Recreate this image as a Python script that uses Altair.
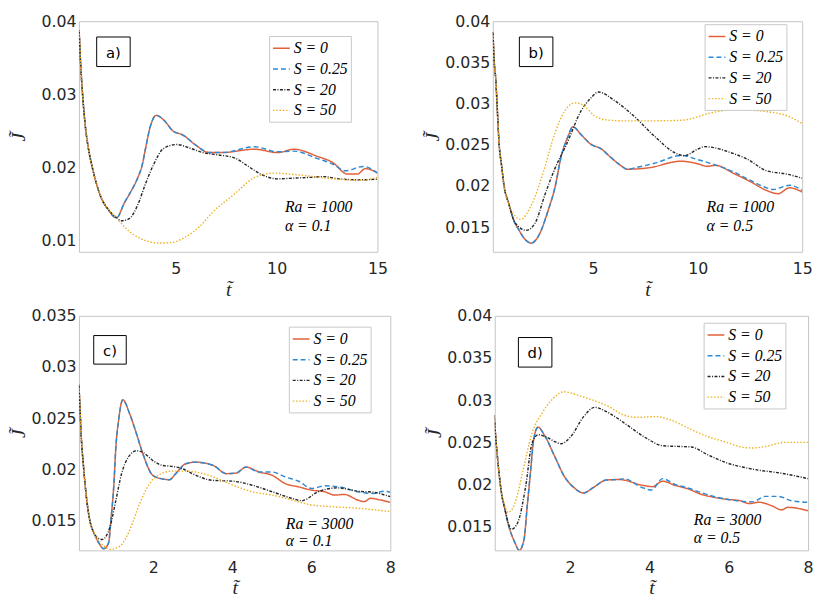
import altair as alt
import pandas as pd

LABELS = ["S = 0", "S = 0.25", "S = 20", "S = 50"]
COLORS = ["#E2613A", "#2B8AD3", "#262626", "#EDB120"]
DASHES = [[1, 0], [5, 3], [3, 1.5, 1, 1.5], [1.5, 1.8]]
WIDTHS = [1.5, 1.4, 1.15, 2.0]
SERIF = "Liberation Serif, DejaVu Serif, Times New Roman, serif"

# ---------------- panel a (Ra = 1000, alpha = 0.1) ----------------
a_common_t = [0.21, 0.28, 0.38, 0.5, 0.67, 0.86, 1.07, 1.31, 1.64]
a_common_J = [0.03873, 0.03436, 0.02998, 0.02605, 0.02255, 0.0200, 0.01773, 0.01576, 0.01424]
a_s0_t = a_common_t + [2.06, 2.45, 2.77, 3.09, 3.34, 3.5, 3.74, 4.03, 4.39, 4.87, 5.36, 6.0, 6.65, 7.3,
                       8.9, 10.05, 10.86, 12.0, 12.8, 13.5, 14.0, 14.4, 15.0]
a_s0_J = a_common_J + [0.01305, 0.0151, 0.01664, 0.01839, 0.02035, 0.02255, 0.0256, 0.0271, 0.0265,
                       0.02495, 0.0244, 0.0230, 0.0220, 0.0220, 0.02246, 0.0220, 0.02246, 0.0215,
                       0.0206, 0.01905, 0.01905, 0.0198, 0.0192]
a_s025_t = a_common_t + [2.06, 2.45, 2.77, 3.09, 3.34, 3.5, 3.74, 4.03, 4.39, 4.87, 5.36, 6.0, 6.65, 7.3,
                         8.9, 10.05, 10.86, 12.0, 12.8, 13.4, 14.3, 15.0]
a_s025_J = a_common_J + [0.01305, 0.0151, 0.01664, 0.01839, 0.02035, 0.02255, 0.0256, 0.0271, 0.0265,
                         0.02495, 0.0244, 0.0230, 0.0220, 0.0220, 0.0228, 0.0221, 0.0222, 0.0212,
                         0.0204, 0.0195, 0.0201, 0.0192]
a_s20_t = a_common_t + [2.04, 2.3, 2.69, 3.09, 3.5, 3.9, 4.39, 5.04, 5.69, 6.33, 7.14, 7.95, 8.6, 9.24,
                        10.05, 10.86, 11.67, 12.3, 13.1, 14.1, 15.0]
a_s20_J = a_common_J + [0.01314, 0.01265, 0.01293, 0.01467, 0.01773, 0.02035, 0.02255, 0.0231, 0.02263,
                        0.0220, 0.02167, 0.02123, 0.0201, 0.0190, 0.0184, 0.0185, 0.0186, 0.0187,
                        0.0184, 0.01826, 0.01835]
a_s50_t = a_common_t + [2.04, 2.45, 2.93, 3.58, 4.23, 4.87, 5.52, 6.17, 6.82, 7.95, 8.92, 9.89, 11.2,
                        12.8, 14.1, 15.0]
a_s50_J = a_common_J + [0.01314, 0.01183, 0.01073, 0.00986, 0.0096, 0.0097, 0.0105, 0.01183, 0.0138,
                        0.01642, 0.0186, 0.01918, 0.0189, 0.0184, 0.0182, 0.0186]

# ---------------- panel b (Ra = 1000, alpha = 0.5) ----------------
b_common_t = [0.21, 0.27, 0.34, 0.42, 0.5, 0.62, 0.73, 0.97]
b_common_J = [0.0387, 0.0350, 0.03305, 0.0291, 0.0252, 0.0225, 0.02016, 0.0178]
b_s0_t = b_common_t + [1.2, 1.44, 1.75, 2.04, 2.38, 2.85, 3.17, 3.48, 3.8, 4.03, 4.43, 4.9, 5.37, 5.84,
                       6.31, 6.63, 7.63, 9.2, 9.99, 10.46, 10.86, 11.72, 12.5, 13.3, 13.84, 14.4, 15.0]
b_s0_J = b_common_J + [0.01586, 0.01469, 0.0135, 0.01305, 0.0139, 0.01703, 0.01977, 0.02367, 0.0260,
                       0.02719, 0.02621, 0.02504, 0.02453, 0.02348, 0.0225, 0.02203, 0.02219, 0.0230,
                       0.0227, 0.02238, 0.0225, 0.02152, 0.02055, 0.01945, 0.01906, 0.01977, 0.01926]
b_s025_t = b_common_t + [1.2, 1.44, 1.75, 2.04, 2.38, 2.85, 3.17, 3.48, 3.8, 4.03, 4.43, 4.9, 5.37, 5.84,
                         6.31, 6.63, 7.0, 8.0, 9.2, 10.0, 10.78, 11.72, 12.5, 13.3, 13.6, 14.4, 15.0]
b_s025_J = b_common_J + [0.01586, 0.01469, 0.0135, 0.01305, 0.0139, 0.01703, 0.01977, 0.02367, 0.0260,
                         0.02719, 0.02621, 0.02504, 0.02453, 0.02348, 0.0225, 0.02203, 0.0222, 0.0228,
                         0.0237, 0.0232, 0.0226, 0.0217, 0.0207, 0.01977, 0.01957, 0.02008, 0.01945]
b_s20_t = b_common_t + [1.28, 1.8, 2.22, 2.7, 3.17, 3.72, 4.43, 4.9, 5.25, 6.06, 7.0, 7.95, 8.89, 9.36,
                        9.99, 10.31, 10.78, 11.56, 12.35, 13.3, 14.24, 15.0]
b_s20_J = b_common_J + [0.01547, 0.01461, 0.01547, 0.01898, 0.0221, 0.0250, 0.02914, 0.0307, 0.0314,
                        0.0303, 0.02836, 0.0260, 0.02406, 0.02367, 0.02445, 0.02477, 0.02465, 0.02406,
                        0.02328, 0.02184, 0.02145, 0.02094]
b_s50_t = b_common_t + [1.2, 1.52, 2.07, 2.62, 3.17, 3.64, 4.14, 4.58, 5.05, 5.53, 6.47, 7.5, 9.2,
                        10.78, 11.72, 13.3, 14.24, 15.0]
b_s50_J = b_common_J + [0.0166, 0.01594, 0.0178, 0.0217, 0.0264, 0.0291, 0.0301, 0.0297, 0.02855,
                        0.02805, 0.0279, 0.0279, 0.02797, 0.02895, 0.02926, 0.02902, 0.02855, 0.02758]

# ---------------- panel c (Ra = 3000, alpha = 0.1) ----------------
c_common_t = [0.12, 0.15, 0.18, 0.23, 0.29, 0.35, 0.41, 0.5]
c_common_J = [0.02826, 0.0257, 0.0231, 0.02055, 0.01798, 0.01605, 0.01477, 0.0138]
c_s0_t = c_common_t + [0.62, 0.75, 0.87, 0.93, 1.0, 1.06, 1.12, 1.23, 1.41, 1.58, 1.74, 1.99, 2.2, 2.41,
                       2.57, 2.82, 3.07, 3.52, 3.85, 4.1, 4.35, 4.68, 5.01, 5.34, 5.68, 6.01, 6.34,
                       6.59, 6.84, 7.17, 7.34, 7.5, 7.75, 8.0]
c_s0_J = c_common_J + [0.01284, 0.01226, 0.01284, 0.0151, 0.0183, 0.0225, 0.0247, 0.0268, 0.02537,
                       0.02344, 0.02151, 0.01942, 0.0191, 0.0190, 0.01959, 0.02055, 0.02071, 0.02039,
                       0.01959, 0.01965, 0.02023, 0.01975, 0.01943, 0.01862, 0.0183, 0.01798, 0.01782,
                       0.0175, 0.01756, 0.01702, 0.01686, 0.01718, 0.01702, 0.01679]
c_s025_t = c_common_t + [0.62, 0.75, 0.87, 0.93, 1.0, 1.06, 1.12, 1.23, 1.41, 1.58, 1.74, 1.99, 2.2, 2.41,
                         2.57, 2.82, 3.07, 3.52, 3.85, 4.1, 4.35, 4.68, 5.01, 5.34, 5.68, 6.01, 6.34,
                         6.84, 7.17, 7.59, 7.83, 8.0]
c_s025_J = c_common_J + [0.01284, 0.01226, 0.01284, 0.0151, 0.0183, 0.0225, 0.0247, 0.0268, 0.02537,
                         0.02344, 0.02151, 0.01942, 0.0191, 0.0190, 0.01959, 0.02055, 0.02071, 0.02039,
                         0.01959, 0.01965, 0.02023, 0.01975, 0.01975, 0.01927, 0.01885, 0.01814,
                         0.0184, 0.0182, 0.01782, 0.01766, 0.01788, 0.01776]
c_s20_t = c_common_t + [0.6, 0.71, 0.81, 0.91, 1.04, 1.2, 1.37, 1.58, 1.74, 1.99, 2.24, 2.49, 2.74, 2.99,
                        3.49, 4.02, 4.51, 5.01, 5.51, 5.76, 6.17, 6.67, 7.17, 7.59, 8.0]
c_s20_J = c_common_J + [0.0133, 0.01316, 0.0135, 0.01445, 0.0167, 0.0196, 0.0212, 0.02183, 0.02167,
                        0.02087, 0.02039, 0.02029, 0.02007, 0.01959, 0.01894, 0.01885, 0.01846, 0.01782,
                        0.01718, 0.01695, 0.01782, 0.0182, 0.01788, 0.01776, 0.01734]
c_s50_t = c_common_t + [0.54, 0.71, 0.91, 1.16, 1.41, 1.66, 1.91, 2.16, 2.49, 2.74, 3.07, 3.4, 4.02,
                        4.51, 5.01, 5.51, 6.01, 6.51, 7.17, 8.0]
c_s50_J = c_common_J + [0.01348, 0.01268, 0.0122, 0.01252, 0.01413, 0.0167, 0.01862, 0.01952, 0.01984,
                        0.01984, 0.01975, 0.01943, 0.01846, 0.01782, 0.0175, 0.01702, 0.01653, 0.01637,
                        0.01621, 0.01589]

# ---------------- panel d (Ra = 3000, alpha = 0.5) ----------------
d_common_t = [0.085, 0.13, 0.19, 0.27]
d_common_J = [0.02825, 0.0253, 0.0222, 0.0190]
d_s0_t = d_common_t + [0.35, 0.43, 0.6, 0.72, 0.84, 0.92, 1.0, 1.08, 1.19, 1.37, 1.61, 1.85, 2.1, 2.34,
                       2.58, 2.91, 3.23, 3.84, 4.08, 4.33, 4.65, 4.97, 5.3, 5.62, 5.95, 6.27, 6.52,
                       6.76, 7.08, 7.33, 7.49, 8.0]
d_s0_J = d_common_J + [0.0172, 0.0155, 0.0132, 0.0122, 0.01355, 0.0175, 0.0214, 0.0253, 0.0268, 0.0257,
                       0.02335, 0.0210, 0.01963, 0.0190, 0.01963, 0.02053, 0.0206, 0.0199, 0.01975,
                       0.0204, 0.0199, 0.0195, 0.01885, 0.0185, 0.01825, 0.0181, 0.01775, 0.0179,
                       0.0175, 0.0170, 0.0173, 0.0169]
d_s025_t = d_common_t + [0.35, 0.43, 0.6, 0.72, 0.84, 0.92, 1.0, 1.08, 1.19, 1.37, 1.61, 1.85, 2.1, 2.34,
                         2.58, 2.91, 3.23, 3.35, 3.84, 4.05, 4.33, 4.65, 4.97, 5.3, 5.95, 6.6, 6.92,
                         7.25, 7.57, 8.0]
d_s025_J = d_common_J + [0.0172, 0.0155, 0.0132, 0.0122, 0.01355, 0.0175, 0.0214, 0.0253, 0.0268,
                         0.0257, 0.02335, 0.0210, 0.01963, 0.0190, 0.01963, 0.02053, 0.0206, 0.0207,
                         0.0196, 0.01935, 0.0207, 0.0200, 0.0196, 0.01905, 0.01825, 0.01795, 0.0186,
                         0.0186, 0.0181, 0.0179]
d_s20_t = d_common_t + [0.35, 0.52, 0.68, 0.88, 1.04, 1.2, 1.37, 1.61, 1.77, 2.02, 2.34, 2.62, 2.99, 3.43,
                        3.92, 4.33, 4.65, 5.06, 5.46, 5.95, 6.44, 6.76, 7.25, 8.0]
d_s20_J = d_common_J + [0.0172, 0.0147, 0.0155, 0.0198, 0.0249, 0.0259, 0.0257, 0.0251, 0.02484, 0.0257,
                        0.02805, 0.02915, 0.02845, 0.02708, 0.0255, 0.0246, 0.02453, 0.02445, 0.02355,
                        0.02257, 0.02198, 0.0217, 0.0214, 0.0207]
d_s50_t = d_common_t + [0.35, 0.43, 0.54, 0.64, 0.8, 1.04, 1.29, 1.53, 1.85, 2.18, 2.58, 2.99, 3.35, 3.68,
                        4.16, 4.49, 5.06, 5.46, 5.95, 6.27, 6.6, 6.92, 7.41, 8.0]
d_s50_J = d_common_J + [0.0176, 0.0167, 0.0171, 0.01826, 0.0214, 0.0261, 0.02845, 0.0300, 0.0310, 0.0306,
                        0.0300, 0.0292, 0.02825, 0.02797, 0.02805, 0.02773, 0.0265, 0.0257, 0.0250,
                        0.0245, 0.02433, 0.0245, 0.0250, 0.0250]

X_TICKS_LONG = [5, 10, 15]
X_TICKS_SHORT = [2, 4, 6, 8]
Y_TICKS_A = [0.01, 0.02, 0.03, 0.04]
Y_TICKS_B = [0.015, 0.02, 0.025, 0.03, 0.035, 0.04]
Y_TICKS_C = [0.015, 0.02, 0.025, 0.03, 0.035]
Y_TICKS_D = [0.015, 0.02, 0.025, 0.03, 0.035, 0.04]


def make_df(series):
    rows = []
    for lab, ts, js in series:
        for t, j in zip(ts, js):
            rows.append({"t": t, "J": j, "S": lab})
    return pd.DataFrame(rows)


def panel(series, xdom, xticks, ydom, yticks, w, h, label, box, legxy, ann, annx, anny):
    df = make_df(series)
    leg = alt.Legend(orient="none", legendX=legxy[0], legendY=legxy[1], title=None,
                     symbolType="stroke", symbolSize=289, symbolStrokeWidth=1.5,
                     labelFont=SERIF, labelFontStyle="italic", labelFontSize=16,
                     labelColor="black", fillColor="white", strokeColor="#c8c8c8",
                     padding=3, rowPadding=3, labelOffset=3)
    lines = alt.Chart(df).mark_line(interpolate="monotone", clip=True).encode(
        x=alt.X("t:Q", scale=alt.Scale(domain=xdom, nice=False, zero=False),
                axis=alt.Axis(values=xticks, title="t\u0303", format="d")),
        y=alt.Y("J:Q", scale=alt.Scale(domain=ydom, nice=False, zero=False),
                axis=alt.Axis(values=yticks, title="J\u0303", format="~g")),
        color=alt.Color("S:N", scale=alt.Scale(domain=LABELS, range=COLORS), legend=leg),
        strokeDash=alt.StrokeDash("S:N", scale=alt.Scale(domain=LABELS, range=DASHES), legend=leg),
        strokeWidth=alt.StrokeWidth("S:N", scale=alt.Scale(domain=LABELS, range=WIDTHS), legend=None),
    )
    box_df = pd.DataFrame({"txt": [label]})
    rect = alt.Chart(box_df).mark_rect(fill="white", stroke="black", strokeWidth=1).encode(
        x=alt.value(box[0]), x2=alt.value(box[1]), y=alt.value(box[2]), y2=alt.value(box[3]))
    btxt = alt.Chart(box_df).mark_text(font="DejaVu Sans", fontSize=15, color="black",
                                       baseline="middle", align="center").encode(
        x=alt.value((box[0] + box[1]) / 2), y=alt.value((box[2] + box[3]) / 2 + 1), text="txt:N")
    ann_df1 = pd.DataFrame({"txt": [ann[0]]})
    ann_df2 = pd.DataFrame({"txt": [ann[1]]})
    t1 = alt.Chart(ann_df1).mark_text(font=SERIF, fontStyle="italic", fontSize=16,
                                      color="black", align="left", baseline="alphabetic").encode(
        x=alt.value(annx), y=alt.value(h - anny[0]), text="txt:N")
    t2 = alt.Chart(ann_df2).mark_text(font=SERIF, fontStyle="italic", fontSize=16,
                                      color="black", align="left", baseline="alphabetic").encode(
        x=alt.value(annx), y=alt.value(h - anny[1]), text="txt:N")
    return alt.layer(lines, rect, btxt, t1, t2).properties(width=w, height=h)


ha, hc = 234, 238
pa = panel([(LABELS[0], a_s0_t, a_s0_J), (LABELS[1], a_s025_t, a_s025_J),
            (LABELS[2], a_s20_t, a_s20_J), (LABELS[3], a_s50_t, a_s50_J)],
           [0.2, 15], X_TICKS_LONG, [0.0084, 0.04], Y_TICKS_A, 303, ha, "a)",
           (18, 52, 16, 46), (193, 15), ("Ra = 1000", "\u03b1 = 0.1"), 209, (40, 21))
pb = panel([(LABELS[0], b_s0_t, b_s0_J), (LABELS[1], b_s025_t, b_s025_J),
            (LABELS[2], b_s20_t, b_s20_J), (LABELS[3], b_s50_t, b_s50_J)],
           [0.2, 15], X_TICKS_LONG, [0.012, 0.04], Y_TICKS_B, 314, ha, "b)",
           (27, 61, 16, 46), (215, 3), ("Ra = 1000", "\u03b1 = 0.5"), 217, (40, 21))
pc = panel([(LABELS[0], c_s0_t, c_s0_J), (LABELS[1], c_s025_t, c_s025_J),
            (LABELS[2], c_s20_t, c_s20_J), (LABELS[3], c_s50_t, c_s50_J)],
           [0.12, 8], X_TICKS_SHORT, [0.0121, 0.035], Y_TICKS_C, 316, hc, "c)",
           (15, 48, 20, 49), (213, 11), ("Ra = 3000", "\u03b1 = 0.1"), 210, (22, 4))
pd_ = panel([(LABELS[0], d_s0_t, d_s0_J), (LABELS[1], d_s025_t, d_s025_J),
             (LABELS[2], d_s20_t, d_s20_J), (LABELS[3], d_s50_t, d_s50_J)],
            [0.1, 8], X_TICKS_SHORT, [0.0122, 0.04], Y_TICKS_D, 318, hc, "d)",
            (24, 58, 22, 52), (212, 7), ("Ra = 3000", "\u03b1 = 0.5"), 202, (26, 7))

res = dict(color="independent", strokeDash="independent", strokeWidth="independent",
           x="independent", y="independent")
row1 = alt.hconcat(pa, pb, spacing=34).resolve_scale(**res)
row2 = alt.hconcat(pc, pd_, spacing=28).resolve_scale(**res)

chart = alt.vconcat(row1, row2, spacing=7).resolve_scale(**res).properties(
    padding={"left": 0, "top": 0, "right": 0, "bottom": 0}
).configure_view(stroke="#c4c4c4", strokeWidth=1).configure_axis(
    labelFont="DejaVu Sans", labelFontSize=16, labelColor="#262626",
    titleFont=SERIF, titleFontStyle="italic", titleFontWeight="normal",
    titleFontSize=20, titleColor="#262626", domain=False, ticks=False, grid=False,
    labelFlush=False
).configure_axisY(
    minExtent=46, maxExtent=46, titlePadding=5, labelPadding=3
).configure_axisX(
    labelPadding=9, titlePadding=3
)

chart.save("out.html", embed_options={"renderer": "svg", "actions": False})
